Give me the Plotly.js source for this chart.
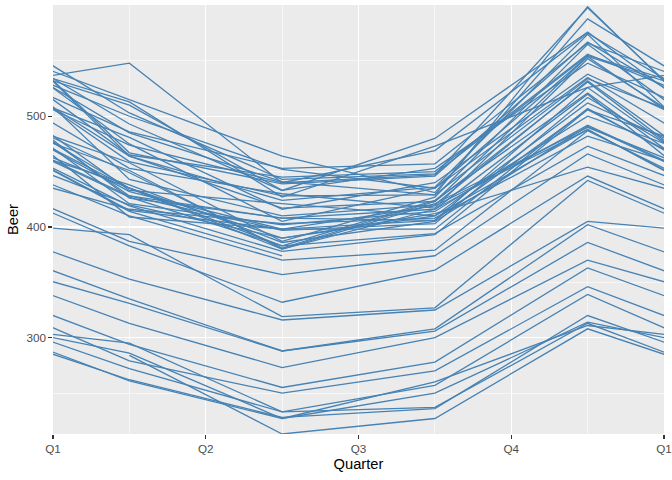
<!DOCTYPE html>
<html>
<head>
<meta charset="utf-8">
<script src="https://cdn.plot.ly/plotly-3.0.1.min.js"></script>
<style>
  body { margin: 0; background: #fff; }
  #chart { width: 672px; height: 480px; }
</style>
</head>
<body>
<div id="chart"></div>
<script>
// quarterly beer production, one entry per year (1956 .. 2010)
var years = [];
for (var yr = 1956; yr <= 2010; yr++) years.push(yr);

var q1 = [284, 262, 272, 261, 286, 295, 279, 294, 313, 331,
          335, 353, 393, 383, 387, 410, 419, 458, 465, 500,
          510, 486, 515, 503, 513, 548, 493, 475, 453, 464,
          459, 481, 474, 467, 485, 464, 443, 433, 449, 426,
          409, 432, 428, 435, 421, 451, 428, 435, 435, 416,
          438, 427, 420, 415, 414];
var q2 = [213, 228, 233, 227, 227, 233, 250, 255, 273, 288,
          288, 316, 319, 332, 357, 370, 378, 387, 445, 452,
          433, 453, 464, 443, 427, 440, 433, 405, 430, 417,
          428, 416, 440, 439, 441, 424, 410, 421, 381, 408,
          398, 398, 397, 383, 402, 380, 408, 380, 390, 403,
          386, 383, 390, 398, 374];
var q3 = [227, 236, 237, 250, 260, 257, 270, 278, 300, 306,
          308, 325, 327, 361, 374, 379, 393, 427, 450, 435,
          453, 457, 431, 448, 473, 469, 480, 435, 417, 423,
          429, 440, 447, 446, 429, 436, 420, 410, 423, 416,
          398, 406, 403, 424, 414, 416, 406, 421, 412, 408,
          405, 394, 410, 419, null];
var q4 = [308, 320, 313, 314, 311, 339, 346, 363, 370, 386,
          402, 405, 442, 446, 466, 487, 506, 565, 556, 554,
          548, 566, 588, 555, 526, 575, 576, 535, 552, 554,
          534, 538, 598, 567, 599, 574, 532, 512, 531, 520,
          507, 526, 517, 521, 500, 492, 506, 490, 454, 482,
          491, 473, 488, 488, null];

var qLabels = ['Q1', 'Q2', 'Q3', 'Q4', 'Q1'];

// each year's line runs from the previous Q4 to the next Q1, clipped at the panel edges
var traces = [];
for (var i = 0; i < years.length; i++) {
  var prev = i > 0 ? q4[i - 1] : null;
  var next = i < years.length - 1 ? q1[i + 1] : null;
  traces.push({
    type: 'scatter',
    mode: 'lines',
    name: String(years[i]),
    x: [-0.5, 0.5, 1.5, 2.5, 3.5, 4.5],
    y: [prev, q1[i], q2[i], q3[i], q4[i], next],
    line: { color: '#4682B4', width: 1.3 },
    connectgaps: false,
    hoverinfo: 'x+y+name'
  });
}

var tickFont = { family: 'Liberation Sans, Arial, sans-serif', size: 11.7, color: '#4D4D4D' };
var titleFont = { family: 'Liberation Sans, Arial, sans-serif', size: 14.7, color: '#000000' };

var layout = {
  width: 672,
  height: 480,
  margin: { l: 53, r: 8, t: 5, b: 46 },
  paper_bgcolor: '#FFFFFF',
  plot_bgcolor: '#EBEBEB',
  showlegend: false,
  xaxis: {
    range: [0, 4],
    tickvals: [0, 1, 2, 3, 4],
    ticktext: qLabels,
    ticks: 'outside',
    ticklen: 3.7,
    tickwidth: 1.1,
    tickcolor: '#333333',
    tickfont: tickFont,
    showgrid: true,
    gridcolor: '#FFFFFF',
    gridwidth: 1.1,
    zeroline: false,
    showline: false,
    minor: { tickvals: [0.5, 1.5, 2.5, 3.5], showgrid: true, gridcolor: '#FFFFFF', gridwidth: 0.55, ticks: '' },
    title: { text: 'Quarter', font: titleFont, standoff: 4 },
    automargin: false
  },
  yaxis: {
    range: [213, 600.5],
    tickvals: [300, 400, 500],
    ticks: 'outside',
    ticklen: 3.7,
    tickwidth: 1.1,
    tickcolor: '#333333',
    tickfont: tickFont,
    showgrid: true,
    gridcolor: '#FFFFFF',
    gridwidth: 1.1,
    zeroline: false,
    showline: false,
    minor: { tickvals: [250, 350, 450, 550], showgrid: true, gridcolor: '#FFFFFF', gridwidth: 0.55, ticks: '' },
    title: { text: 'Beer', font: titleFont, standoff: 4 },
    automargin: false
  }
};

Plotly.newPlot('chart', traces, layout, { displayModeBar: false, staticPlot: true });
</script>
</body>
</html>
